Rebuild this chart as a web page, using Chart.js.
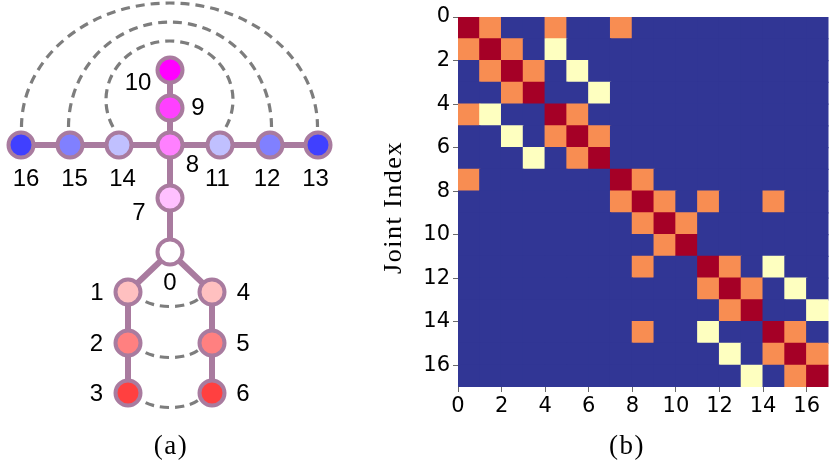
<!DOCTYPE html>
<html>
<head>
<meta charset="utf-8">
<script src="https://cdn.jsdelivr.net/npm/chart.js@4.4.1/dist/chart.umd.min.js"></script>
<style>
  html, body { margin: 0; padding: 0; background: #fff; }
  #wrap { position: relative; width: 830px; height: 467px; overflow: hidden; }
  #skeleton { position: absolute; left: 0; top: 0; }
  #adjacency { position: absolute; left: 340px; top: 0; }
</style>
</head>
<body>
<div id="wrap">
  <canvas id="skeleton" width="340" height="467"></canvas>
  <canvas id="adjacency" width="490" height="467"></canvas>
</div>
<script>
// ---- panel (a): skeleton graph, joint 8 at the origin, y up ----
const jointX = [0, -0.84, -0.84, -0.84, 0.84, 0.84, 0.84, 0, 0, 0, 0, 1.0, 2.0, 2.96, -1.02, -2.0, -2.98];
const jointY = [-2.14, -2.94, -3.96, -4.96, -2.94, -3.96, -4.96, -1.06, 0, 0.74, 1.5, 0, 0, 0, 0, 0, 0];
const jointColors = ['#ffffff', '#ffc0c0', '#ff8080', '#ff4040', '#ffc0c0', '#ff8080', '#ff4040',
                     '#ffc0ff', '#ff80ff', '#ff40ff', '#ff00ff',
                     '#c0c0ff', '#8080ff', '#4040ff', '#c0c0ff', '#8080ff', '#4040ff'];
const boneChains = [[3, 2, 1, 0, 4, 5, 6], [0, 7, 8, 9, 10], [16, 15, 14, 8, 11, 12, 13]];

// dashed links between symmetric joints
const symmetricPairs = [[14, 11], [15, 12], [16, 13], [1, 4], [2, 5], [3, 6]];
const arcBulge = ['up', 'up', 'up', 'down', 'down', 'down'];
const arcCenterY = [0.9, 0.36, 0.36, -2.94, -3.96, -4.96];
const arcRadiusX = [1.27, 2.03, 2.96, 0.65, 0.65, 0.65];
const arcRadiusY = [1.18, 2.1, 2.48, 0.29, 0.29, 0.29];
const arcEndY = [0.36, 0.36, 0.36, -3.09, -4.11, -5.11];

// ---- panel (b): joint adjacency matrix ----
const heatTicks = [0, 2, 4, 6, 8, 10, 12, 14, 16];
const heatRows = [
    [1, .75, 0, 0, .75, 0, 0, .75, 0, 0, 0, 0, 0, 0, 0, 0, 0],
    [.75, 1, .75, 0, .5, 0, 0, 0, 0, 0, 0, 0, 0, 0, 0, 0, 0],
    [0, .75, 1, .75, 0, .5, 0, 0, 0, 0, 0, 0, 0, 0, 0, 0, 0],
    [0, 0, .75, 1, 0, 0, .5, 0, 0, 0, 0, 0, 0, 0, 0, 0, 0],
    [.75, .5, 0, 0, 1, .75, 0, 0, 0, 0, 0, 0, 0, 0, 0, 0, 0],
    [0, 0, .5, 0, .75, 1, .75, 0, 0, 0, 0, 0, 0, 0, 0, 0, 0],
    [0, 0, 0, .5, 0, .75, 1, 0, 0, 0, 0, 0, 0, 0, 0, 0, 0],
    [.75, 0, 0, 0, 0, 0, 0, 1, .75, 0, 0, 0, 0, 0, 0, 0, 0],
    [0, 0, 0, 0, 0, 0, 0, .75, 1, .75, 0, .75, 0, 0, .75, 0, 0],
    [0, 0, 0, 0, 0, 0, 0, 0, .75, 1, .75, 0, 0, 0, 0, 0, 0],
    [0, 0, 0, 0, 0, 0, 0, 0, 0, .75, 1, 0, 0, 0, 0, 0, 0],
    [0, 0, 0, 0, 0, 0, 0, 0, .75, 0, 0, 1, .75, 0, .5, 0, 0],
    [0, 0, 0, 0, 0, 0, 0, 0, 0, 0, 0, .75, 1, .75, 0, .5, 0],
    [0, 0, 0, 0, 0, 0, 0, 0, 0, 0, 0, 0, .75, 1, 0, 0, .5],
    [0, 0, 0, 0, 0, 0, 0, 0, .75, 0, 0, .5, 0, 0, 1, .75, 0],
    [0, 0, 0, 0, 0, 0, 0, 0, 0, 0, 0, 0, .5, 0, .75, 1, .75],
    [0, 0, 0, 0, 0, 0, 0, 0, 0, 0, 0, 0, 0, .5, 0, .75, 1]
];

// styles
const BONE = '#a97b9f';
const DASH = '#7d7d7d';
const labelDx = [0, -31, -31.5, -31.5, 31.5, 31, 31, -31, 22.5, 28, -32, -2.5, -3, -2.5, 3.5, 4.5, 5];
const labelDy = [31, 1, 1, 1.5, 1, 1, 1.5, 15.5, 20, 0, 13, 34, 34, 34, 34, 34, 34];
const heatPalette = { 0: '#313695', 0.5: '#feffc0', 0.75: '#f88d52', 1: '#a50026' };

Chart.defaults.animation = false;
Chart.defaults.events = [];
Chart.defaults.plugins.legend.display = false;
Chart.defaults.plugins.tooltip.enabled = false;

function jointPoint(j) {
    return { x: jointX[j], y: jointY[j] };
}

function drawCaption(ctx, text, x, y) {
    ctx.save();
    ctx.fillStyle = '#000';
    ctx.textAlign = 'center';
    ctx.textBaseline = 'middle';
    ctx.font = '27px "Liberation Serif", "Times New Roman", serif';
    ctx.letterSpacing = '1.5px';
    ctx.fillText(text, x, y);
    ctx.restore();
}

const skeletonExtras = {
    id: 'skeletonExtras',
    beforeDatasetsDraw(chart) {
        const { ctx, scales: { x, y } } = chart;
        ctx.save();
        ctx.strokeStyle = DASH;
        ctx.lineWidth = 3.2;
        ctx.setLineDash([9, 6]);
        symmetricPairs.forEach(([a, b], i) => {
            const cx = x.getPixelForValue((jointX[a] + jointX[b]) / 2);
            const cy = y.getPixelForValue(arcCenterY[i]);
            const rx = Math.abs(x.getPixelForValue(arcRadiusX[i]) - x.getPixelForValue(0));
            const ry = Math.abs(y.getPixelForValue(arcRadiusY[i]) - y.getPixelForValue(0));
            const s = Math.asin(Math.min(1, (y.getPixelForValue(arcEndY[i]) - cy) / ry));
            ctx.beginPath();
            if (arcBulge[i] === 'up') {
                ctx.ellipse(cx, cy, rx, ry, 0, Math.PI - s, 2 * Math.PI + s);
            } else {
                ctx.ellipse(cx, cy, rx, ry, 0, s, Math.PI - s);
            }
            ctx.stroke();
        });
        ctx.restore();
    },
    afterDatasetsDraw(chart) {
        const { ctx, scales: { x, y } } = chart;
        ctx.save();
        ctx.fillStyle = '#000';
        ctx.textAlign = 'center';
        ctx.textBaseline = 'middle';
        ctx.font = '24px "Liberation Sans", Arial, sans-serif';
        jointX.forEach((jx, j) => {
            ctx.fillText(String(j), x.getPixelForValue(jx) + labelDx[j], y.getPixelForValue(jointY[j]) + labelDy[j]);
        });
        ctx.restore();
        drawCaption(ctx, '(a)', 171, 447);
    }
};

new Chart(document.getElementById('skeleton'), {
    type: 'scatter',
    data: {
        datasets: [
            {
                data: jointX.map((_, j) => jointPoint(j)),
                pointRadius: 12.5,
                pointHoverRadius: 12.5,
                pointBorderWidth: 4,
                pointBorderColor: BONE,
                pointBackgroundColor: jointColors,
                order: 0
            },
            ...boneChains.map(chain => ({
                type: 'line',
                data: chain.map(jointPoint),
                borderColor: BONE,
                borderWidth: 6,
                pointRadius: 0,
                tension: 0,
                order: 1
            }))
        ]
    },
    options: {
        responsive: false,
        layout: { padding: 0, autoPadding: false },
        scales: {
            x: { type: 'linear', min: -3.4, max: 3.4, display: false },
            y: { type: 'linear', min: -6.44, max: 2.9, display: false }
        }
    },
    plugins: [skeletonExtras]
});

// one floating bar per matrix cell
const heatCells = [];
heatRows.forEach((row, r) => {
    row.forEach((v, c) => heatCells.push({ x: [c, c + 1], y: r + 0.5, v }));
});

const heatLabels = {
    id: 'heatLabels',
    afterDraw(chart) {
        const { ctx } = chart;
        ctx.save();
        ctx.fillStyle = '#000';
        ctx.textAlign = 'center';
        ctx.textBaseline = 'middle';
        ctx.font = '26px "Liberation Serif", "Times New Roman", serif';
        ctx.letterSpacing = '1.5px';
        ctx.translate(54, 207.5);
        ctx.rotate(-Math.PI / 2);
        ctx.fillText('Joint Index', 0, 0);
        ctx.restore();
        drawCaption(ctx, '(b)', 287, 447);
    }
};

const tickFont = { family: '"DejaVu Sans", sans-serif', size: 21 };

new Chart(document.getElementById('adjacency'), {
    type: 'bar',
    data: {
        datasets: [{
            data: heatCells,
            backgroundColor: ctx => heatPalette[ctx.raw ? ctx.raw.v : 0],
            borderWidth: 0,
            inflateAmount: 0.6,
            barPercentage: 1,
            categoryPercentage: 1
        }]
    },
    options: {
        responsive: false,
        indexAxis: 'y',
        layout: { padding: { top: 17, right: 1.5, left: 0, bottom: 0 } },
        scales: {
            x: {
                type: 'linear',
                position: 'bottom',
                min: 0,
                max: 17,
                afterBuildTicks: s => { s.ticks = heatTicks.map(v => ({ value: v })); },
                afterFit: s => { s.height = 80; },
                ticks: { color: '#000', font: tickFont, padding: 2, maxRotation: 0, autoSkip: false },
                grid: { drawOnChartArea: false, tickLength: 5, color: '#444', lineWidth: 0.8 },
                border: { display: false }
            },
            y: {
                type: 'linear',
                min: 0,
                max: 17,
                reverse: true,
                offset: false,
                afterBuildTicks: s => { s.ticks = heatTicks.map(v => ({ value: v })); },
                afterFit: s => { s.width = 118; },
                ticks: { color: '#000', font: tickFont, padding: 3, autoSkip: false },
                grid: { offset: false, drawOnChartArea: false, tickLength: 5, color: '#444', lineWidth: 0.8 },
                border: { display: false }
            }
        }
    },
    plugins: [heatLabels]
});
</script>
</body>
</html>
